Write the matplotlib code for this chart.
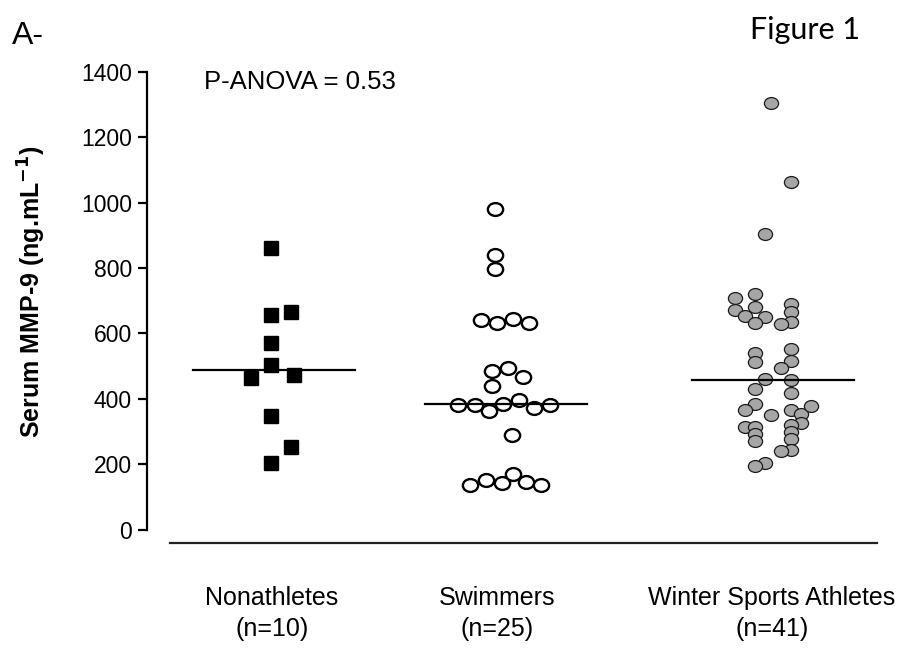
import matplotlib
matplotlib.use('Agg')
import matplotlib.pyplot as plt
from matplotlib.path import Path
import numpy as np

plt.rcParams['font.family'] = ['Liberation Sans', 'DejaVu Sans']

# group labels
groups = ['Nonathletes\n(n=10)', 'Swimmers\n(n=25)', 'Winter Sports Athletes\n(n=41)']

# serum MMP-9 values (ng/mL)
nonathletes = [861, 656, 666, 569, 504, 465, 473, 348, 251, 205]
swimmers = [980, 840, 796, 641, 631, 644, 633, 486, 494, 466, 440,
             382, 382, 364, 383, 397, 371, 382, 290,
             137, 152, 142, 170, 147, 137]
winter = [1304, 1063, 904, 708, 721, 672, 680, 653, 650, 633, 690, 664, 636, 628,
          541, 511, 553, 516, 494, 460, 456, 430, 417,
          384, 366, 351, 366, 354, 378, 325, 315, 315, 293, 272,
          320, 297, 276, 244, 241, 205, 193]

# horizontal scatter of the dot plot (same order as values)
non_jit = [-3, -3, 17, -3, -3, -23, 20, -3, 17, -3]
swim_jit = [-11, -11, -11, -25, -9, 7, 23, -14, 2, 17, -14,
            -48, -31, -17, -3, 13, 28, 44, 6,
            -36, -20, -4, 7, 20, 35]
wint_jit = [-2, 18, -8, -38, -18, -38, -18, -28, -8, -18, 18, 18, 18, 8,
            -18, -18, 18, 18, 8, -8, 18, -18, 18,
            -18, -28, -2, 18, 28, 38, 28, -28, -18, -18, -18,
            18, 18, 18, 18, 8, -8, -18]

centers = [127.3, 359.3, 625.8]
label_pos = [125.3, 350.3, 625.3]

# slightly flattened circle marker
circ = Path.unit_circle()
ellipse = Path(circ.vertices * np.array([1.0, 0.84]), circ.codes)

fig = plt.figure(figsize=(9.23, 6.48), dpi=100)
ax = fig.add_axes([146.7 / 923, 105 / 648, 753.3 / 923, 471.3 / 648])

ax.plot(np.array(centers[0]) + np.array(non_jit), nonathletes, 's', ms=10,
        color='black', clip_on=False, zorder=3)
ax.plot(np.array(centers[1]) + np.array(swim_jit), swimmers, ls='none', marker=ellipse,
        ms=11, mfc='white', mec='black', mew=1.7, clip_on=False, zorder=3)
ax.plot(np.array(centers[2]) + np.array(wint_jit), winter, ls='none', marker=ellipse,
        ms=10.2, mfc='#a6a6a6', mec='#1a1a1a', mew=0.9, clip_on=False, zorder=3)

# median lines
for c, vals in zip(centers, [nonathletes, swimmers, winter]):
    m = np.median(vals)
    ax.plot([c - 81, c + 81], [m, m], color='black', lw=1.6, zorder=4)

ax.set_xlim(0, 753.3)
ax.set_ylim(-41, 1400)
ax.set_yticks(range(0, 1401, 200))
ax.spines['top'].set_visible(False)
ax.spines['right'].set_visible(False)
ax.spines['left'].set_bounds(0, 1400)
ax.spines['bottom'].set_bounds(23.3, 730.3)
ax.spines['left'].set_linewidth(1.6)
ax.spines['bottom'].set_linewidth(1.6)
ax.spines['bottom'].set_color('#222222')
ax.tick_params(axis='y', direction='out', length=6.5, width=1.6, pad=4, labelsize=16.5)
ax.set_xticks(label_pos)
ax.set_xticklabels(groups, linespacing=1.35)
ax.tick_params(axis='x', length=0, pad=31, labelsize=18)

ax.set_ylabel('Serum MMP-9 (ng.mL$^{\\mathbf{-1}}$)', fontsize=18, fontweight='bold')
ax.yaxis.set_label_coords(-0.131, 0.534)

ax.text(57, 1368, 'P-ANOVA = 0.53', fontsize=18.5, va='center')

fig.text(12 / 923, 1 - 36 / 648, 'A-', fontsize=23, va='center')
fig.text(805 / 923, 1 - 30 / 648, 'Figure 1', fontsize=22, va='center', ha='center',
         family=['Lato', 'DejaVu Sans'])

plt.savefig('out.png', dpi=100)
plt.close()
